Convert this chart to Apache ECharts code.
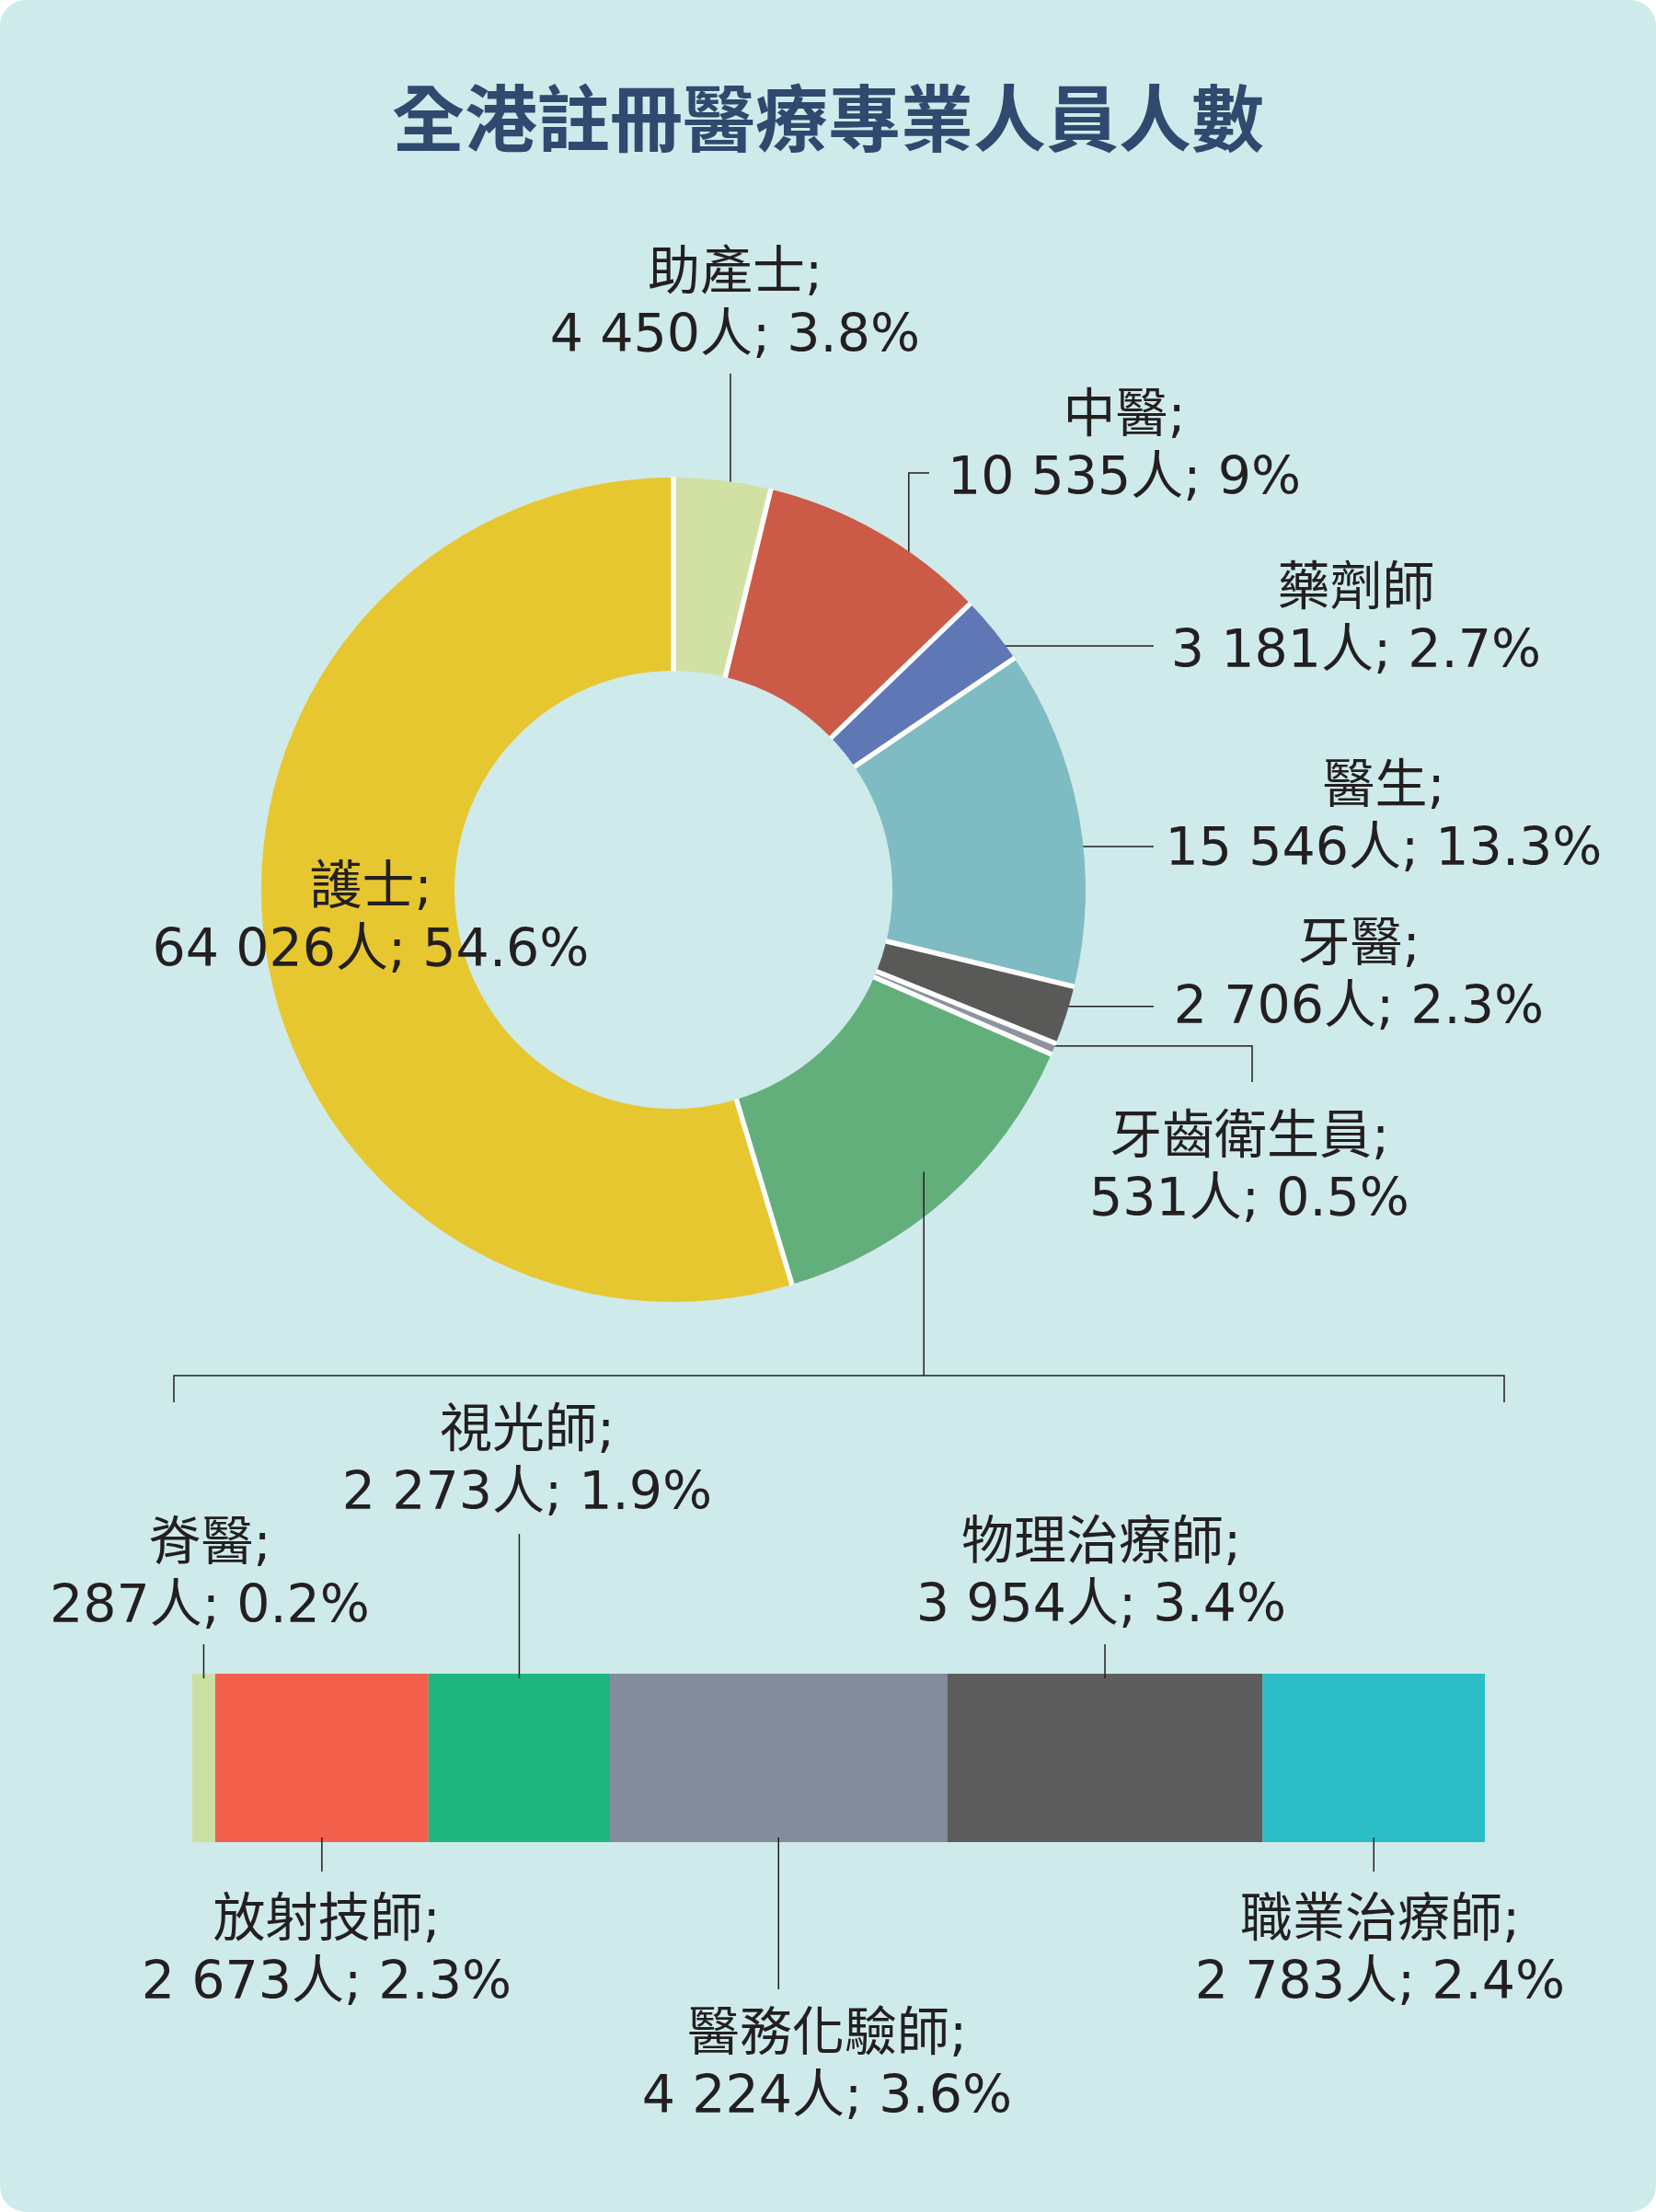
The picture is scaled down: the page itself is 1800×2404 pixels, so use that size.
<!DOCTYPE html>
<html>
<head>
<meta charset="utf-8">
<script src="https://cdn.jsdelivr.net/npm/echarts@6/dist/echarts.min.js"></script>
<style>
  html, body { margin: 0; padding: 0; background: #ffffff; }
  #chart { width: 1800px; height: 2404px; background: #cfeaea; border-radius: 28px; }
</style>
</head>
<body>
<div id="chart"></div>
<script>
// ---------------- DATA ----------------
const titleText = '全港註冊醫療專業人員人數';

// Donut (clockwise from 12 o'clock)
const pieNames  = ['助產士', '中醫', '藥劑師', '醫生', '牙醫', '牙齒衛生員', '其他', '護士'];
const pieHeads  = ['助產士;', '中醫;', '藥劑師', '醫生;', '牙醫;', '牙齒衛生員;', '', '護士;'];
const pieValues = [4450, 10535, 3181, 15546, 2706, 531, null, 64026]; // '其他' = sum of bar below
const pieColors = ['#d1e1a4', '#cb5a47', '#5f78b5', '#7fbbc3', '#595958', '#8c939f', '#63af7b', '#e7c72f'];

// Breakdown bar of '其他'
const barNames  = ['脊醫', '放射技師', '視光師', '醫務化驗師', '物理治療師', '職業治療師'];
const barValues = [287, 2673, 2273, 4224, 3954, 2783];
const barColors = ['#c9e0a2', '#f25f4b', '#1eb67e', '#828c9d', '#5d5d5d', '#2bbec6'];

// ---------------- DERIVED ----------------
const barTotal = barValues.reduce((a, b) => a + b, 0);
const pieVals = pieValues.map(v => v == null ? barTotal : v);
const grandTotal = pieVals.reduce((a, b) => a + b, 0);

function fmtNum(n) { return String(n).replace(/\B(?=(\d{3})+(?!\d))/g, ' '); }
function fmtPct(v) { return (v / grandTotal * 100).toFixed(1).replace(/\.0$/, '') + '%'; }

// ---------------- LAYOUT ----------------
const TXT = '#231f20';
const FONT = "'DejaVu Sans', 'Noto Sans CJK TC', sans-serif";
const FS = 57, LH = 68;
const DY = 5;
const PIE_C = [732, 967], PIE_R0 = 238, PIE_R = 448;
const BAR_GRID = { left: 209, top: 1819, width: 1405, height: 183 };

// label block centers + leader routes (f: position inside slice, r: radius of leader start)
const pieLabelLayout = [
  { x: 799,  y: 328.5, f: 0.6,   r: 434, route: 'v',  endY: 406 },
  { x: 1222, y: 483,   f: 0.67,  r: 442, route: 'vh', endY: 514, endX: 1010 },
  { x: 1474, y: 671,   f: 0.73,  r: 442, route: 'h',  endX: 1254 },
  { x: 1504, y: 886,   f: 0.587, r: 439, route: 'h',  endX: 1254 },
  { x: 1477, y: 1058,  f: 0.37,  r: 442, route: 'h',  endX: 1254 },
  { x: 1358, y: 1267,  f: 0.5,   r: 440, route: 'hv', endX: 1361, endY: 1176 },
  null,
  { x: 403,  y: 996.5 }
];
const barLabelLayout = [
  { x: 228,  y: 1709.5, side: 'top',    endY: 1787 },
  { x: 355,  y: 2118.5, side: 'bottom', endY: 2034 },
  { x: 573,  y: 1586.5, side: 'top',    endY: 1667 },
  { x: 899,  y: 2242.5, side: 'bottom', endY: 2162 },
  { x: 1197, y: 1708.5, side: 'top',    endY: 1787 },
  { x: 1500, y: 2118.5, side: 'bottom', endY: 2034 }
];

function angleAt(cum) { return (-90 + 360 * cum / grandTotal) * Math.PI / 180; }
function slicePoint(i, f, r) {
  let before = 0;
  for (let k = 0; k < i; k++) before += pieVals[k];
  const th = angleAt(before + f * pieVals[i]);
  return [PIE_C[0] + r * Math.cos(th), PIE_C[1] + r * Math.sin(th)];
}
function pieLeader(i) {
  const L = pieLabelLayout[i];
  const s = slicePoint(i, L.f, L.r);
  if (L.route === 'v')  return [s, [s[0], L.endY]];
  if (L.route === 'vh') return [s, [s[0], L.endY], [L.endX, L.endY]];
  if (L.route === 'h')  return [s, [L.endX, s[1]]];
  if (L.route === 'hv') return [s, [L.endX, s[1]], [L.endX, L.endY]];
  return null;
}

// white separators between slices (at the slice boundaries)
const separators = [];
(function () {
  let acc = 0;
  for (let k = 0; k < pieVals.length; k++) {
    const th = angleAt(acc);
    separators.push({
      type: 'line', z: 50, silent: true,
      shape: {
        x1: PIE_C[0] + (PIE_R0 - 0.5) * Math.cos(th), y1: PIE_C[1] + (PIE_R0 - 0.5) * Math.sin(th),
        x2: PIE_C[0] + (PIE_R + 0.5) * Math.cos(th),  y2: PIE_C[1] + (PIE_R + 0.5) * Math.sin(th)
      },
      style: { stroke: '#ffffff', lineWidth: 5.5 }
    });
    acc += pieVals[k];
  }
})();

// bracket linking the '其他' slice to the bar
const stem = slicePoint(6, 0.5, 410);
const brY = 1495, brTick = 1524;
const brL = BAR_GRID.left - 20, brR = BAR_GRID.left + BAR_GRID.width + 21;

// cumulative starts for bar annotation
const barStarts = [];
barValues.reduce((acc, v, i) => { barStarts[i] = acc; return acc + v; }, 0);

const chart = echarts.init(document.getElementById('chart'), null, { renderer: 'canvas' });

const option = {
  animation: false,
  backgroundColor: 'transparent',
  title: {
    text: titleText,
    left: 'center',
    top: 89,
    padding: 0,
    textStyle: { fontSize: 79, lineHeight: 79, fontWeight: 'bold', color: '#2f4a6e', fontFamily: "'Noto Sans CJK TC', sans-serif" }
  },
  grid: { left: BAR_GRID.left, top: BAR_GRID.top, width: BAR_GRID.width, height: BAR_GRID.height, containLabel: false },
  xAxis: { type: 'value', min: 0, max: barTotal, show: false },
  yAxis: { type: 'category', data: ['其他'], show: false },
  graphic: separators.concat([
    { type: 'polyline', z: 60, silent: true, shape: { points: [stem, [stem[0], brY]] }, style: { stroke: TXT, lineWidth: 1.5, fill: null } },
    { type: 'polyline', z: 60, silent: true, shape: { points: [[brL, brTick], [brL, brY], [brR, brY], [brR, brTick]] }, style: { stroke: TXT, lineWidth: 1.5, fill: null } }
  ]),
  series: [
    {
      type: 'pie',
      silent: true,
      center: PIE_C,
      radius: [PIE_R0, PIE_R],
      startAngle: 90,
      clockwise: true,
      avoidLabelOverlap: false,
      itemStyle: { borderWidth: 0 },
      label: {
        show: true,
        position: 'outside',
        color: TXT,
        fontSize: FS,
        lineHeight: LH,
        fontFamily: FONT,
        formatter: p => pieHeads[p.dataIndex] + '\n' + fmtNum(p.value) + '人; ' + fmtPct(p.value)
      },
      labelLine: { show: true, lineStyle: { color: TXT, width: 1.5 } },
      labelLayout: function (p) {
        const L = pieLabelLayout[p.dataIndex];
        if (!L) return {};
        const res = { x: L.x, y: L.y + DY, align: 'center', verticalAlign: 'middle' };
        if (L.route) res.labelLinePoints = pieLeader(p.dataIndex);
        return res;
      },
      data: pieNames.map((n, i) => {
        const d = { name: n, value: pieVals[i], itemStyle: { color: pieColors[i] } };
        if (pieValues[i] == null) d.label = { show: false };
        if (!pieLabelLayout[i] || !pieLabelLayout[i].route) d.labelLine = { show: false };
        return d;
      })
    }
  ].concat(barNames.map((n, i) => ({
    type: 'bar',
    name: n,
    stack: 'other',
    silent: true,
    barWidth: '100%',
    data: [barValues[i]],
    itemStyle: { color: barColors[i] }
  }))).concat([{
    type: 'custom',
    silent: true,
    z: 10,
    encode: { x: 0, y: 1 },
    data: barValues.map((v, i) => [barStarts[i], 0, v]),
    renderItem: function (params, api) {
      const i = params.dataIndex;
      const L = barLabelLayout[i];
      const s = api.value(0), v = api.value(2);
      const c = api.coord([s + v / 2, 0]);
      const band = api.size([0, 1])[1];
      const top = c[1] - band / 2, bot = c[1] + band / 2;
      const y1 = L.side === 'top' ? top + 5 : bot - 5;
      return {
        type: 'group',
        children: [
          { type: 'line', shape: { x1: c[0], y1: y1, x2: c[0], y2: L.endY }, style: { stroke: TXT, lineWidth: 1.5 } },
          {
            type: 'text',
            style: {
              text: barNames[i] + ';\n' + fmtNum(v) + '人; ' + fmtPct(v),
              x: L.x, y: L.y + DY,
              align: 'center', verticalAlign: 'middle',
              fill: TXT, fontSize: FS, lineHeight: LH, fontFamily: FONT
            }
          }
        ]
      };
    }
  }])
};
chart.setOption(option);
</script>
</body>
</html>
